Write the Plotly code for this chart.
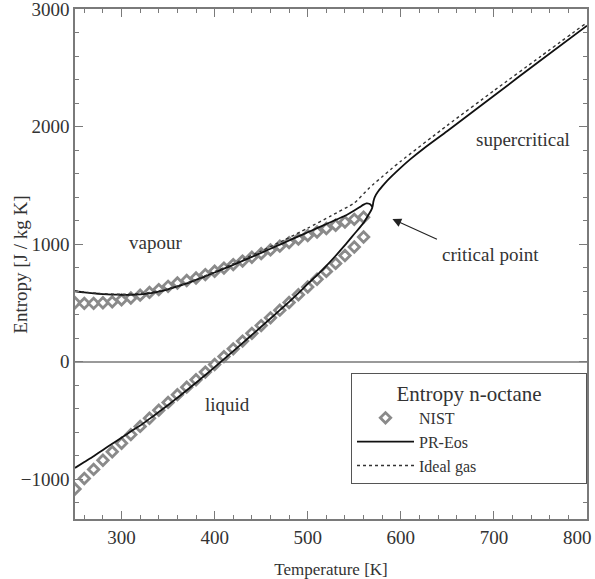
import plotly.graph_objects as go

# ---------------- data ----------------
# NIST reference points (temperature K, entropy J/kg K)
T_nist = [250, 260, 270, 280, 290, 300, 310, 320, 330, 340, 350, 360, 370, 380, 390,
          400, 410, 420, 430, 440, 450, 460, 470, 480, 490, 500, 510, 520, 530, 540, 550, 560]
S_nist_vap = [500, 495, 495, 500, 508, 525, 541, 565, 588, 612, 640, 668, 690, 711, 740,
              768, 795, 825, 855, 887, 918, 950, 982, 1012, 1042, 1072, 1102, 1132, 1160, 1187, 1210, 1228]
S_nist_liq = [-1085, -995, -918, -840, -768, -695, -622, -552, -483, -415, -348, -282, -218, -155, -90,
              -25, 42, 108, 174, 240, 306, 372, 437, 502, 568, 634, 700, 767, 835, 902, 975, 1060]

# Peng-Robinson EoS, vapour branch
T_pr_vap = [250, 260, 270, 280, 290, 300, 310, 320, 330, 340, 350, 360, 370, 380, 390, 400,
            410, 420, 430, 440, 450, 460, 470, 480, 490, 500, 510, 520, 530, 540, 550, 556,
            560, 563, 566, 568, 569.5]
S_pr_vap = [598, 588, 580, 574, 570, 568, 568, 572, 580, 595, 615, 640, 665, 695, 725, 758,
            790, 822, 856, 890, 925, 960, 995, 1030, 1065, 1100, 1135, 1170, 1205, 1240, 1285, 1315,
            1335, 1346, 1343, 1332, 1312]
# Peng-Robinson EoS, liquid branch
T_pr_liq = [250, 260, 270, 280, 290, 300, 310, 320, 330, 340, 350, 360, 370, 380, 390, 400,
            410, 420, 430, 440, 450, 460, 470, 480, 490, 500, 510, 520, 530, 540, 550, 560,
            565, 568, 569.5]
S_pr_liq = [-905, -855, -805, -752, -700, -648, -595, -545, -488, -430, -370, -308, -245, -180, -115, -48,
            20, 88, 157, 226, 296, 366, 437, 508, 582, 660, 735, 815, 900, 990, 1085, 1180,
            1245, 1285, 1312]
# Peng-Robinson EoS, supercritical branch
T_pr_sc = [569.5, 570.5, 572, 575, 580, 585, 590, 600, 610, 625, 650, 700, 750, 800]
S_pr_sc = [1312, 1360, 1400, 1440, 1490, 1535, 1575, 1650, 1720, 1815, 1962, 2262, 2562, 2858]

# Ideal gas
T_ig = [250, 275, 300, 325, 350, 375, 400, 425, 450, 475, 500, 525, 550, 565, 570, 580,
        590, 600, 650, 700, 750, 800]
S_ig = [600, 580, 572, 582, 618, 682, 765, 850, 940, 1035, 1135, 1240, 1350, 1468, 1505, 1572,
        1640, 1705, 2010, 2305, 2595, 2885]

# Tick labels (the last x label is placed as an annotation so it stays inside the page)
x_tick_vals = [300, 400, 500, 600, 700, 800]
x_tick_text = ["300", "400", "500", "600", "700", ""]
x_last_label = "800"
y_tick_vals = [-1000, 0, 1000, 2000, 3000]
y_tick_text = ["\u22121000", "0", "1000", "2000", "3000"]

FONT = "Liberation Serif"
AX = "#7a7a7a"
TXT = "#333333"

fig = go.Figure()

fig.add_trace(go.Scatter(
    x=T_nist + [None] + T_nist, y=S_nist_vap + [None] + S_nist_liq,
    mode="markers", name="NIST",
    marker=dict(symbol="diamond", size=8, color="white",
                line=dict(color="#8a8a8a", width=2.8)),
))
fig.add_trace(go.Scatter(
    x=T_pr_vap + T_pr_sc[1:] + [None] + T_pr_liq,
    y=S_pr_vap + S_pr_sc[1:] + [None] + S_pr_liq,
    mode="lines", name="PR-Eos",
    line=dict(color="#111111", width=1.8, shape="spline", smoothing=0.6),
))
fig.add_trace(go.Scatter(
    x=T_ig, y=S_ig, mode="lines",
    name="Ideal gas" + "\u00a0" * 26,
    line=dict(color="#333333", width=1.4, dash="dot", shape="spline", smoothing=0.6),
))

axis_common = dict(
    showline=True, linecolor=AX, linewidth=1.5, mirror="ticks",
    ticks="inside", ticklen=8, tickwidth=1.2, tickcolor=AX,
    showgrid=False, ticklabeloverflow="allow", automargin=False,
    tickfont=dict(family=FONT, size=19, color=TXT),
)

fig.update_xaxes(
    range=[250, 800], tickmode="array", tickvals=x_tick_vals, ticktext=x_tick_text,
    minor=dict(ticks="inside", ticklen=4, tickcolor=AX, dtick=20, tick0=300, showgrid=False),
    zeroline=False,
    title=dict(text="Temperature [K]", font=dict(family=FONT, size=17, color=TXT), standoff=22),
    **axis_common,
)
fig.update_yaxes(
    range=[-1340, 3000], tickmode="array", tickvals=y_tick_vals, ticktext=y_tick_text,
    minor=dict(ticks="inside", ticklen=4, tickcolor=AX, dtick=200, tick0=0, showgrid=False),
    zeroline=True, zerolinecolor="#9a9a9a", zerolinewidth=1.5,
    **axis_common,
)

ann_font = dict(family=FONT, size=19, color=TXT)
fig.add_annotation(xref="x", yref="paper", x=x_tick_vals[-1], y=-0.036,
                   xanchor="right", yanchor="middle", xshift=7,
                   text=x_last_label, showarrow=False, font=ann_font)
fig.add_annotation(xref="paper", yref="paper", x=-0.107, y=0.499, xanchor="center", yanchor="middle",
                   text="Entropy [J / kg K]", textangle=-90, showarrow=False, font=ann_font)
fig.add_annotation(x=731, y=1890, text="supercritical", showarrow=False, font=ann_font)
fig.add_annotation(x=696, y=910, text="critical point", showarrow=False, font=ann_font)
fig.add_annotation(x=337, y=1010, text="vapour", showarrow=False, font=ann_font)
fig.add_annotation(x=414, y=-365, text="liquid", showarrow=False, font=ann_font)
fig.add_annotation(x=591, y=1213, ax=46, ay=21, text="", showarrow=True,
                   arrowhead=2, arrowsize=1.6, arrowwidth=1.1, arrowcolor="#222222")

fig.update_layout(
    width=595, height=579,
    margin=dict(l=75, r=8, t=9, b=60, autoexpand=False),
    paper_bgcolor="white", plot_bgcolor="white",
    font=dict(family=FONT, color=TXT),
    showlegend=True,
    legend=dict(
        x=1.0, xanchor="right", y=0.287, yanchor="top",
        bgcolor="white", bordercolor="#555555", borderwidth=1,
        font=dict(family=FONT, size=16, color=TXT),
        title=dict(text="Entropy n-octane", side="top center",
                   font=dict(family=FONT, size=21, color=TXT)),
        itemwidth=57, tracegroupgap=0,
    ),
)

fig.write_html("out.html")
